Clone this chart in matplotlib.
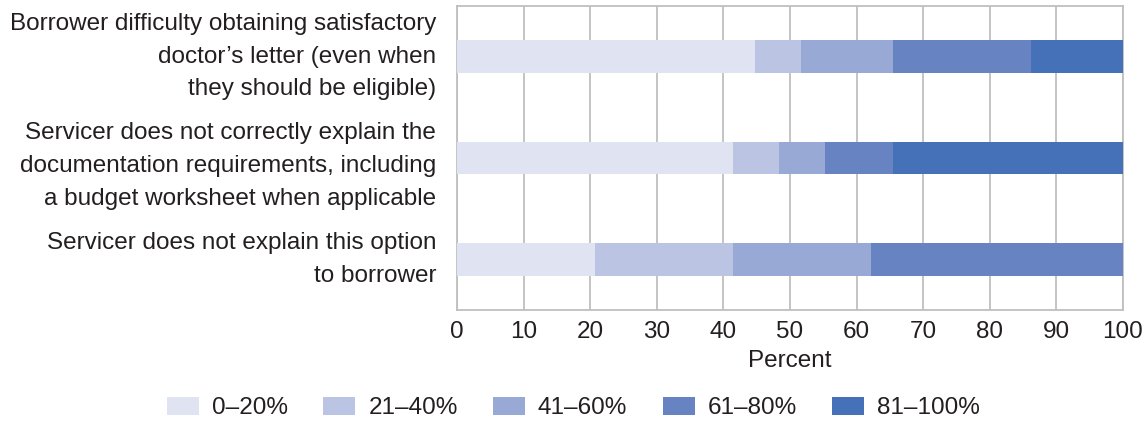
import matplotlib
matplotlib.use("Agg")
import matplotlib.pyplot as plt
import matplotlib.transforms as mtrans
import numpy as np

categories = [
    "Borrower difficulty obtaining satisfactory\ndoctor\u2019s letter (even when\nthey should be eligible)",
    "Servicer does not correctly explain the\ndocumentation requirements, including\na budget worksheet when applicable",
    "Servicer does not explain this option\nto borrower",
]
series_labels = ["0\u201320%", "21\u201340%", "41\u201360%", "61\u201380%", "81\u2013100%"]
s0_20 = [44.8, 41.4, 20.7]
s21_40 = [6.9, 6.9, 20.7]
s41_60 = [13.8, 6.9, 20.7]
s61_80 = [20.7, 10.3, 37.9]
s81_100 = [13.8, 34.5, 0.0]
series = [s0_20, s21_40, s41_60, s61_80, s81_100]
colors = ["#E0E3F2", "#BBC4E3", "#99A9D5", "#6883C2", "#4471B7"]
xticks = [0, 10, 20, 30, 40, 50, 60, 70, 80, 90, 100]

plt.rcParams['font.family'] = ['Liberation Sans', 'DejaVu Sans']
txt = "#231F20"
grid = "#BFBFBF"
fs = 17.5

fig = plt.figure(figsize=(11.46, 4.21), dpi=100)
W, H = 1146, 421
ax = fig.add_axes([457 / W, 1 - 310 / H, (1123 - 457) / W, (310 - 6) / H])

y = np.arange(len(categories))
left = np.zeros(len(categories))
handles = []
for vals, c, lab in zip(series, colors, series_labels):
    b = ax.barh(y, vals, left=left, height=0.32, color=c, label=lab, zorder=3, linewidth=0)
    handles.append(b)
    left = left + np.array(vals)

ax.set_ylim(2.5, -0.5)
ax.set_xlim(0, 100)
ax.set_xticks(xticks)
ax.set_xticklabels([str(t) for t in xticks], fontsize=fs, color=txt)
ax.set_yticks(y)
ax.set_yticklabels(categories, fontsize=fs, color=txt, linespacing=1.62, va='center')
ax.tick_params(axis='x', length=0, pad=8)
ax.tick_params(axis='y', length=0, pad=15)
# small per-label vertical offsets (pixels) as in the reference layout
offsets_px = [0, -8, 0]
for lbl, dy in zip(ax.get_yticklabels(), offsets_px):
    lbl.set_transform(lbl.get_transform() + mtrans.Affine2D().translate(0, dy))
ax.grid(axis='x', color=grid, linewidth=1.3, zorder=0)
for s in ax.spines.values():
    s.set_color(grid)
    s.set_linewidth(1.3)
ax.set_xlabel("Percent", fontsize=fs, color=txt, labelpad=5)

fig.legend(handles=handles, labels=series_labels, loc='center', ncol=5,
           bbox_to_anchor=(573.5 / W, 1 - 408 / H), frameon=False,
           fontsize=fs, handlelength=1.32, handleheight=0.78, handletextpad=0.53,
           columnspacing=1.45, labelcolor=txt, borderpad=0)

fig.savefig("out.png", dpi=100)
